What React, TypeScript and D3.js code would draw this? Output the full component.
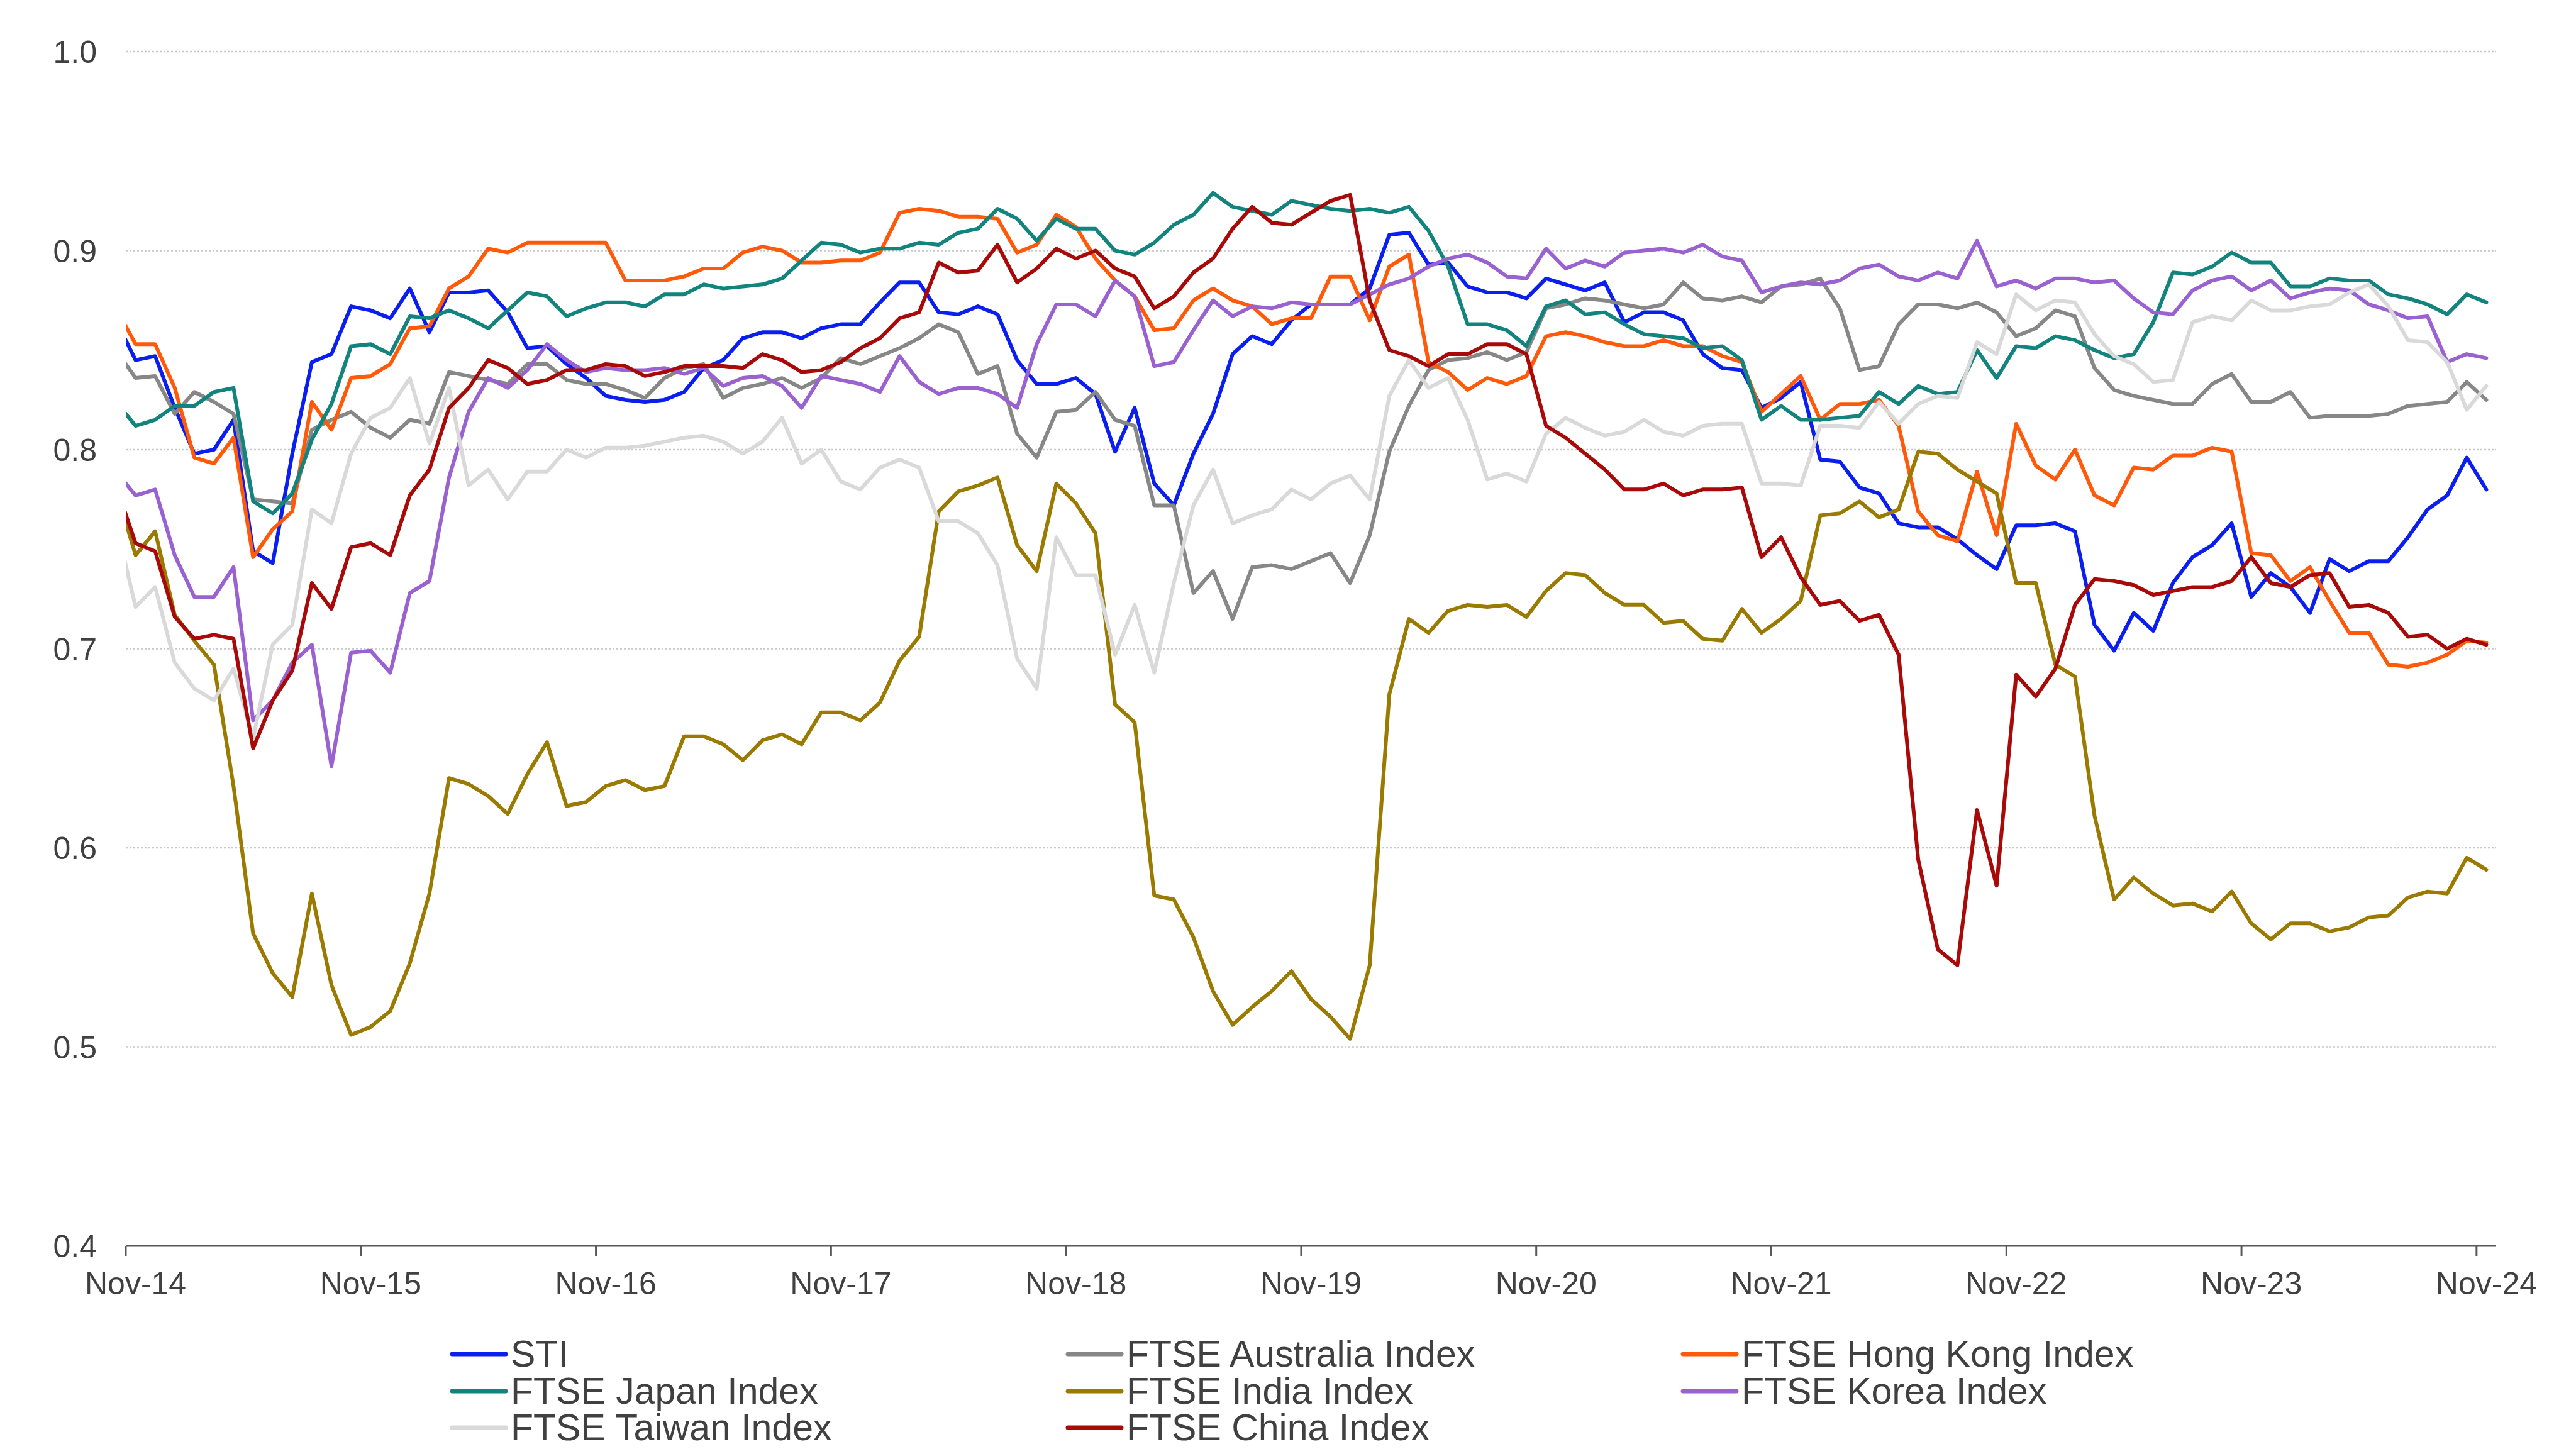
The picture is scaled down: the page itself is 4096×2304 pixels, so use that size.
import * as d3 from "d3";
import { useEffect, useRef } from "react";

// monthly observations, Oct-14 .. Nov-24 (Oct-14 sits just left of the axis and gets clipped)
const months = d3.timeMonth.range(new Date(2014, 9, 1), new Date(2024, 11, 1));
const tickLabels = ["Nov-14", "Nov-15", "Nov-16", "Nov-17", "Nov-18", "Nov-19", "Nov-20", "Nov-21", "Nov-22", "Nov-23", "Nov-24"];
const yTicks = [0.4, 0.5, 0.6, 0.7, 0.8, 0.9, 1.0];

const sti = [0.865,
  0.845, 0.847, 0.821, 0.798, 0.800, 0.815, 0.749, 0.743, 0.798, 0.844, 0.848, 0.872, 0.870, 0.866, 0.881, 0.859, 0.879, 0.879, 0.880, 0.869, 0.851, 0.852, 0.843, 0.836, 0.827,
  0.825, 0.824, 0.825, 0.829, 0.841, 0.845, 0.856, 0.859, 0.859, 0.856, 0.861, 0.863, 0.863, 0.874, 0.884, 0.884, 0.869, 0.868, 0.872, 0.868, 0.845, 0.833, 0.833, 0.836,
  0.828, 0.799, 0.821, 0.783, 0.772, 0.798, 0.818, 0.848, 0.857, 0.853, 0.865, 0.873, 0.873, 0.873, 0.881, 0.908, 0.909, 0.893, 0.894, 0.882, 0.879, 0.879, 0.876, 0.886,
  0.883, 0.880, 0.884, 0.864, 0.869, 0.869, 0.865, 0.848, 0.841, 0.840, 0.821, 0.826, 0.834, 0.795, 0.794, 0.781, 0.778, 0.763, 0.761, 0.761, 0.755, 0.747, 0.740, 0.762,
  0.762, 0.763, 0.759, 0.712, 0.699, 0.718, 0.709, 0.733, 0.746, 0.752, 0.763, 0.726, 0.738, 0.731, 0.718, 0.745, 0.739, 0.744, 0.744, 0.756, 0.770, 0.777, 0.796, 0.780];

const australia = [0.850,
  0.836, 0.837, 0.818, 0.829, 0.824, 0.818, 0.775, 0.774, 0.773, 0.810, 0.815, 0.819, 0.811, 0.806, 0.815, 0.813, 0.839, 0.837, 0.835, 0.833, 0.843, 0.843, 0.835, 0.833, 0.833,
  0.830, 0.826, 0.836, 0.841, 0.843, 0.826, 0.831, 0.833, 0.836, 0.831, 0.836, 0.846, 0.843, 0.847, 0.851, 0.856, 0.863, 0.859, 0.838, 0.842, 0.808, 0.796, 0.819, 0.820,
  0.829, 0.815, 0.812, 0.772, 0.772, 0.728, 0.739, 0.715, 0.741, 0.742, 0.740, 0.744, 0.748, 0.733, 0.757, 0.799, 0.822, 0.840, 0.845, 0.846, 0.849, 0.845, 0.849, 0.871,
  0.873, 0.876, 0.875, 0.873, 0.871, 0.873, 0.884, 0.876, 0.875, 0.877, 0.874, 0.882, 0.883, 0.886, 0.871, 0.840, 0.842, 0.863, 0.873, 0.873, 0.871, 0.874, 0.869, 0.857,
  0.861, 0.870, 0.867, 0.841, 0.830, 0.827, 0.825, 0.823, 0.823, 0.833, 0.838, 0.824, 0.824, 0.829, 0.816, 0.817, 0.817, 0.817, 0.818, 0.822, 0.823, 0.824, 0.834, 0.825];

const hongKong = [0.871,
  0.853, 0.853, 0.831, 0.796, 0.793, 0.806, 0.746, 0.760, 0.769, 0.824, 0.810, 0.836, 0.837, 0.843, 0.861, 0.862, 0.881, 0.887, 0.901, 0.899, 0.904, 0.904, 0.904, 0.904, 0.904,
  0.885, 0.885, 0.885, 0.887, 0.891, 0.891, 0.899, 0.902, 0.900, 0.894, 0.894, 0.895, 0.895, 0.899, 0.919, 0.921, 0.920, 0.917, 0.917, 0.916, 0.899, 0.903, 0.918, 0.912,
  0.896, 0.885, 0.877, 0.860, 0.861, 0.875, 0.881, 0.875, 0.872, 0.863, 0.866, 0.866, 0.887, 0.887, 0.865, 0.892, 0.898, 0.844, 0.839, 0.830, 0.836, 0.833, 0.837, 0.857,
  0.859, 0.857, 0.854, 0.852, 0.852, 0.855, 0.852, 0.852, 0.847, 0.844, 0.819, 0.828, 0.837, 0.815, 0.823, 0.823, 0.825, 0.812, 0.769, 0.757, 0.754, 0.789, 0.757, 0.813,
  0.792, 0.785, 0.800, 0.777, 0.772, 0.791, 0.790, 0.797, 0.797, 0.801, 0.799, 0.748, 0.747, 0.734, 0.741, 0.724, 0.708, 0.708, 0.692, 0.691, 0.693, 0.697, 0.704, 0.703];

const japan = [0.824,
  0.812, 0.815, 0.822, 0.822, 0.829, 0.831, 0.774, 0.768, 0.778, 0.805, 0.823, 0.852, 0.853, 0.848, 0.867, 0.866, 0.870, 0.866, 0.861, 0.870, 0.879, 0.877, 0.867, 0.871, 0.874,
  0.874, 0.872, 0.878, 0.878, 0.883, 0.881, 0.882, 0.883, 0.886, 0.895, 0.904, 0.903, 0.899, 0.901, 0.901, 0.904, 0.903, 0.909, 0.911, 0.921, 0.916, 0.905, 0.916, 0.911,
  0.911, 0.900, 0.898, 0.904, 0.913, 0.918, 0.929, 0.922, 0.920, 0.918, 0.925, 0.923, 0.921, 0.920, 0.921, 0.919, 0.922, 0.910, 0.892, 0.863, 0.863, 0.860, 0.852, 0.872,
  0.875, 0.868, 0.869, 0.863, 0.858, 0.857, 0.856, 0.851, 0.852, 0.845, 0.815, 0.822, 0.815, 0.815, 0.816, 0.817, 0.829, 0.823, 0.832, 0.828, 0.829, 0.850, 0.836, 0.852,
  0.851, 0.857, 0.855, 0.850, 0.846, 0.848, 0.864, 0.889, 0.888, 0.892, 0.899, 0.894, 0.894, 0.882, 0.882, 0.886, 0.885, 0.885, 0.878, 0.876, 0.873, 0.868, 0.878, 0.874];

const india = [0.780,
  0.747, 0.759, 0.717, 0.704, 0.692, 0.631, 0.557, 0.537, 0.525, 0.577, 0.531, 0.506, 0.510, 0.518, 0.542, 0.577, 0.635, 0.632, 0.626, 0.617, 0.637, 0.653, 0.621, 0.623, 0.631,
  0.634, 0.629, 0.631, 0.656, 0.656, 0.652, 0.644, 0.654, 0.657, 0.652, 0.668, 0.668, 0.664, 0.673, 0.694, 0.706, 0.769, 0.779, 0.782, 0.786, 0.752, 0.739, 0.783, 0.773,
  0.758, 0.672, 0.663, 0.576, 0.574, 0.555, 0.528, 0.511, 0.520, 0.528, 0.538, 0.524, 0.515, 0.504, 0.541, 0.677, 0.715, 0.708, 0.719, 0.722, 0.721, 0.722, 0.716, 0.729,
  0.738, 0.737, 0.728, 0.722, 0.722, 0.713, 0.714, 0.705, 0.704, 0.720, 0.708, 0.715, 0.724, 0.767, 0.768, 0.774, 0.766, 0.770, 0.799, 0.798, 0.790, 0.784, 0.778, 0.733,
  0.733, 0.692, 0.686, 0.616, 0.574, 0.585, 0.577, 0.571, 0.572, 0.568, 0.578, 0.562, 0.554, 0.562, 0.562, 0.558, 0.560, 0.565, 0.566, 0.575, 0.578, 0.577, 0.595, 0.589];

const korea = [0.789,
  0.777, 0.780, 0.747, 0.726, 0.726, 0.741, 0.664, 0.674, 0.693, 0.702, 0.641, 0.698, 0.699, 0.688, 0.728, 0.734, 0.786, 0.819, 0.836, 0.831, 0.840, 0.853, 0.845, 0.839, 0.841,
  0.840, 0.840, 0.841, 0.838, 0.841, 0.832, 0.836, 0.837, 0.832, 0.821, 0.837, 0.835, 0.833, 0.829, 0.847, 0.834, 0.828, 0.831, 0.831, 0.828, 0.821, 0.853, 0.873, 0.873,
  0.867, 0.885, 0.877, 0.842, 0.844, 0.860, 0.875, 0.867, 0.872, 0.871, 0.874, 0.873, 0.873, 0.873, 0.878, 0.883, 0.886, 0.892, 0.896, 0.898, 0.894, 0.887, 0.886, 0.901,
  0.891, 0.895, 0.892, 0.899, 0.900, 0.901, 0.899, 0.903, 0.897, 0.895, 0.879, 0.882, 0.884, 0.883, 0.885, 0.891, 0.893, 0.887, 0.885, 0.889, 0.886, 0.905, 0.882, 0.885,
  0.881, 0.886, 0.886, 0.884, 0.885, 0.876, 0.869, 0.868, 0.880, 0.885, 0.887, 0.880, 0.885, 0.876, 0.879, 0.881, 0.880, 0.873, 0.870, 0.866, 0.867, 0.844, 0.848, 0.846];

const taiwan = [0.763,
  0.721, 0.731, 0.693, 0.680, 0.674, 0.690, 0.655, 0.702, 0.712, 0.770, 0.763, 0.798, 0.816, 0.821, 0.836, 0.803, 0.831, 0.782, 0.790, 0.775, 0.789, 0.789, 0.800, 0.796, 0.801,
  0.801, 0.802, 0.804, 0.806, 0.807, 0.804, 0.798, 0.804, 0.816, 0.793, 0.800, 0.784, 0.780, 0.791, 0.795, 0.791, 0.764, 0.764, 0.758, 0.742, 0.695, 0.680, 0.756, 0.737,
  0.737, 0.697, 0.722, 0.688, 0.733, 0.772, 0.790, 0.763, 0.767, 0.770, 0.780, 0.775, 0.783, 0.787, 0.775, 0.827, 0.845, 0.831, 0.836, 0.815, 0.785, 0.788, 0.784, 0.808,
  0.816, 0.811, 0.807, 0.809, 0.815, 0.809, 0.807, 0.812, 0.813, 0.813, 0.783, 0.783, 0.782, 0.812, 0.812, 0.811, 0.824, 0.813, 0.823, 0.827, 0.826, 0.854, 0.848, 0.878,
  0.870, 0.875, 0.874, 0.858, 0.847, 0.843, 0.834, 0.835, 0.864, 0.867, 0.865, 0.875, 0.870, 0.870, 0.872, 0.873, 0.879, 0.883, 0.872, 0.855, 0.854, 0.844, 0.820, 0.832];

const china = [0.782,
  0.753, 0.749, 0.716, 0.705, 0.707, 0.705, 0.650, 0.674, 0.689, 0.733, 0.720, 0.751, 0.753, 0.747, 0.777, 0.790, 0.821, 0.831, 0.845, 0.841, 0.833, 0.835, 0.840, 0.840, 0.843,
  0.842, 0.837, 0.839, 0.842, 0.842, 0.842, 0.841, 0.848, 0.845, 0.839, 0.840, 0.844, 0.851, 0.856, 0.866, 0.869, 0.894, 0.889, 0.890, 0.903, 0.884, 0.891, 0.901, 0.896,
  0.900, 0.891, 0.887, 0.871, 0.877, 0.889, 0.896, 0.911, 0.922, 0.914, 0.913, 0.919, 0.925, 0.928, 0.875, 0.850, 0.847, 0.842, 0.848, 0.848, 0.853, 0.853, 0.848, 0.812,
  0.806, 0.798, 0.790, 0.780, 0.780, 0.783, 0.777, 0.780, 0.780, 0.781, 0.746, 0.756, 0.736, 0.722, 0.724, 0.714, 0.717, 0.697, 0.594, 0.549, 0.541, 0.619, 0.581, 0.687,
  0.676, 0.690, 0.722, 0.735, 0.734, 0.732, 0.727, 0.729, 0.731, 0.731, 0.734, 0.746, 0.733, 0.731, 0.737, 0.738, 0.721, 0.722, 0.718, 0.706, 0.707, 0.700, 0.705, 0.702];

const series = [
  { name: "STI", color: "#0a1ef0", values: sti },
  { name: "FTSE Australia Index", color: "#878787", values: australia },
  { name: "FTSE Hong Kong Index", color: "#ff5a0a", values: hongKong },
  { name: "FTSE Japan Index", color: "#13837d", values: japan },
  { name: "FTSE India Index", color: "#9a7a00", values: india },
  { name: "FTSE Korea Index", color: "#9a62d0", values: korea },
  { name: "FTSE Taiwan Index", color: "#d9d9d9", values: taiwan },
  { name: "FTSE China Index", color: "#a80a0a", values: china },
];

export default function App() {
  const svgRef = useRef<SVGSVGElement>(null);

  useEffect(() => {
    const W = 4096;
    const H = 2304;
    const left = 200;
    const right = 3969;
    const top = 82;
    const bottom = 1981;
    const textColor = "#404040";

    const svg = d3.select(svgRef.current).attr("width", W).attr("height", H);
    svg.selectAll("*").remove();

    // category axis: one band per month from Nov-14, points sit in the band centres
    const nBands = months.length - 1;
    const x = d3.scaleLinear().domain([0, nBands]).range([left, right]);
    const y = d3.scaleLinear().domain([0.4, 1.0]).range([bottom, top]);

    svg
      .append("defs")
      .append("clipPath")
      .attr("id", "plot")
      .append("rect")
      .attr("x", left)
      .attr("y", 0)
      .attr("width", right - left)
      .attr("height", H);

    // gridlines
    svg
      .append("g")
      .selectAll("line")
      .data(yTicks.filter((t) => t > 0.4))
      .join("line")
      .attr("x1", left)
      .attr("x2", right)
      .attr("y1", (d) => y(d))
      .attr("y2", (d) => y(d))
      .attr("stroke", "#c8c8c8")
      .attr("stroke-width", 2.5)
      .attr("stroke-dasharray", "3,3");

    // y labels
    svg
      .append("g")
      .selectAll("text")
      .data(yTicks)
      .join("text")
      .attr("x", 154)
      .attr("y", (d) => y(d) + 18)
      .attr("text-anchor", "end")
      .attr("font-family", "'Liberation Sans', Arial, sans-serif")
      .attr("font-size", 50)
      .attr("fill", textColor)
      .text((d) => d3.format(".1f")(d));

    // lines
    const line = d3
      .line<number>()
      .x((_, i) => x(i - 0.5))
      .y((d) => y(d));

    svg
      .append("g")
      .attr("clip-path", "url(#plot)")
      .selectAll("path")
      .data(series)
      .join("path")
      .attr("d", (d) => line(d.values))
      .attr("fill", "none")
      .attr("stroke", (d) => d.color)
      .attr("stroke-width", 6)
      .attr("stroke-linejoin", "round")
      .attr("stroke-linecap", "round");

    // x axis
    const axis = svg.append("g");
    axis
      .append("line")
      .attr("x1", left)
      .attr("x2", right)
      .attr("y1", bottom)
      .attr("y2", bottom)
      .attr("stroke", "#595959")
      .attr("stroke-width", 3);
    axis
      .selectAll("line.tick")
      .data(tickLabels)
      .join("line")
      .attr("class", "tick")
      .attr("x1", (_, i) => x(i * 12))
      .attr("x2", (_, i) => x(i * 12))
      .attr("y1", bottom)
      .attr("y2", bottom + 16)
      .attr("stroke", "#595959")
      .attr("stroke-width", 3);
    axis
      .selectAll("text")
      .data(tickLabels)
      .join("text")
      .attr("x", (_, i) => x(i * 12 + 0.5))
      .attr("y", 2058)
      .attr("text-anchor", "middle")
      .attr("font-family", "'Liberation Sans', Arial, sans-serif")
      .attr("font-size", 50)
      .attr("fill", textColor)
      .text((d) => d);

    // legend, 3 columns filled row by row
    const colX = [812, 1791, 2769];
    const rowY = [2153, 2212, 2270];
    const item = svg
      .append("g")
      .selectAll("g")
      .data(series)
      .join("g")
      .attr("transform", (_, i) => `translate(${colX[i % 3]},${rowY[Math.floor(i / 3)]})`);
    item
      .append("line")
      .attr("x1", -93)
      .attr("x2", -8)
      .attr("stroke", (d) => d.color)
      .attr("stroke-width", 7)
      .attr("stroke-linecap", "round");
    item
      .append("text")
      .attr("y", 20)
      .attr("font-family", "'Liberation Sans', Arial, sans-serif")
      .attr("font-size", 59)
      .attr("fill", textColor)
      .text((d) => d.name);
  }, []);

  return (
    <svg
      ref={svgRef}
      style={{ position: "absolute", left: 0, top: 0, background: "#fff" }}
    ></svg>
  );
}
